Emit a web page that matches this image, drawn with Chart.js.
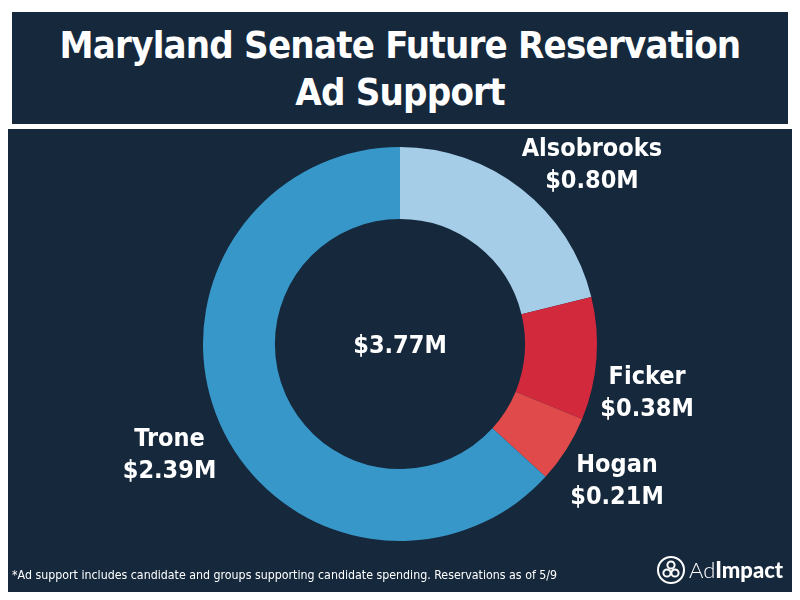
<!DOCTYPE html>
<html>
<head>
<meta charset="utf-8">
<script src="https://cdn.jsdelivr.net/npm/chart.js@4.4.1/dist/chart.umd.min.js"></script>
<style>
  html, body { margin: 0; padding: 0; background: #ffffff; }
  body { width: 800px; height: 600px; position: relative; overflow: hidden; font-family: "DejaVu Sans Condensed", "DejaVu Sans", sans-serif; }
  #title {
    position: absolute; left: 12px; top: 12px; width: 776px; height: 112px;
    background: #15283c; color: #ffffff; text-align: center;
    font-weight: bold; font-size: 38px; line-height: 47px; letter-spacing: -0.8px;
    box-sizing: border-box; padding-top: 10px;
  }
  #panel {
    position: absolute; left: 8px; top: 129px; width: 784px; height: 463px;
    background: #15283c;
  }
  #note {
    position: absolute; left: 12px; top: 568px; color: #ffffff;
    font-size: 12.3px; white-space: nowrap;
  }
  #logo { position: absolute; left: 656px; top: 555px; width: 136px; height: 32px; }
</style>
</head>
<body>
<div id="title">Maryland Senate Future Reservation<br>Ad Support</div>
<div id="panel"><canvas id="donut" width="784" height="463"></canvas></div>
<div id="note">*Ad support includes candidate and groups supporting candidate spending. Reservations as of 5/9</div>
<svg id="logo" viewBox="0 0 136 32">
  <circle cx="15" cy="15" r="13" fill="none" stroke="#ffffff" stroke-width="2"/>
  <circle cx="15" cy="10" r="3.6" fill="none" stroke="#ffffff" stroke-width="2"/>
  <circle cx="11" cy="18" r="3.6" fill="none" stroke="#ffffff" stroke-width="2"/>
  <circle cx="19" cy="18" r="3.6" fill="none" stroke="#ffffff" stroke-width="2"/>
  <text x="33" y="23" fill="#ffffff" font-family="Lato, sans-serif" font-size="22"><tspan font-weight="300">Ad</tspan><tspan font-weight="900">Impact</tspan></text>
</svg>
<script>
  const candidates = ["Alsobrooks", "Ficker", "Hogan", "Trone"];
  const spending = [0.80, 0.38, 0.21, 2.39];
  const spendingLabels = ["$0.80M", "$0.38M", "$0.21M", "$2.39M"];
  const sliceColors = ["#a6cde8", "#d2293c", "#e04a4a", "#3897c9"];
  const totalLabel = "$3.77M";

  const labelFont = 'bold 25px "DejaVu Sans Condensed", "DejaVu Sans", sans-serif';

  // outside labels: two lines placed along each slice's middle angle
  const sliceLabels = {
    id: "sliceLabels",
    afterDraw(chart, args, opts) {
      const ctx = chart.ctx;
      const arcs = chart.getDatasetMeta(0).data;
      ctx.save();
      ctx.fillStyle = "#ffffff";
      ctx.font = labelFont;
      ctx.textAlign = "center";
      ctx.textBaseline = "middle";
      arcs.forEach((arc, i) => {
        const mid = (arc.startAngle + arc.endAngle) / 2 + opts.nudge[i] * Math.PI / 180;
        const r = arc.outerRadius + opts.gap[i];
        const x = arc.x + Math.cos(mid) * r;
        const y = arc.y + Math.sin(mid) * r;
        ctx.fillText(candidates[i], x, y - 16);
        ctx.fillText(spendingLabels[i], x, y + 16);
      });
      const a = arcs[0];
      ctx.fillText(totalLabel, a.x, a.y + 2);
      ctx.restore();
    }
  };

  new Chart(document.getElementById("donut"), {
    type: "doughnut",
    data: {
      labels: candidates,
      datasets: [{
        data: spending,
        backgroundColor: sliceColors,
        borderWidth: 0,
        hoverOffset: 0
      }]
    },
    options: {
      responsive: false,
      animation: false,
      cutout: "63.5%",
      layout: { padding: { top: 18, bottom: 51 } },
      plugins: {
        legend: { display: false },
        tooltip: { enabled: false },
        sliceLabels: { gap: [65, 55, 60, 59], nudge: [9, 7, 0, -2] }
      }
    },
    plugins: [sliceLabels]
  });
</script>
</body>
</html>
